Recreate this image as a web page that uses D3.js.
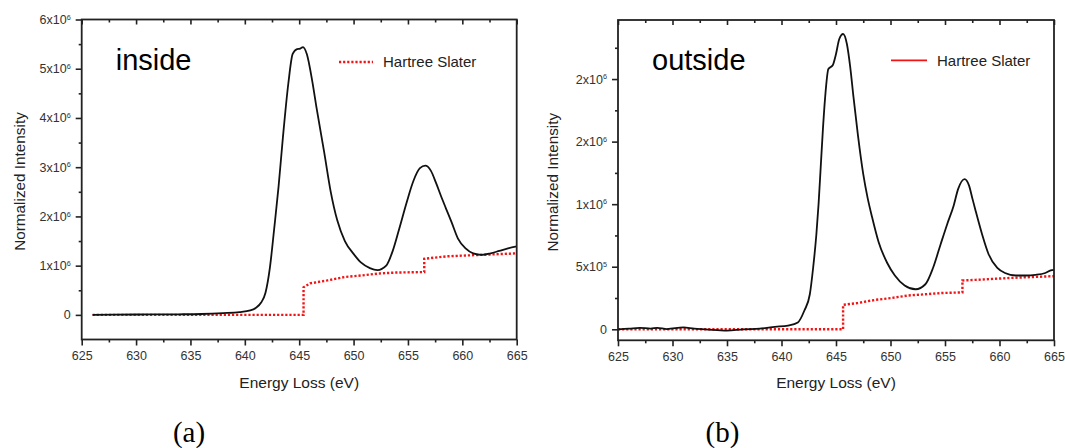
<!DOCTYPE html>
<html><head><meta charset="utf-8">
<script src="https://cdn.jsdelivr.net/npm/d3@7"></script>
<style>
body{margin:0;background:#fff;}
svg{display:block;}
</style>
</head><body>
<svg id="c" width="1065" height="448" font-family="Arial, 'Liberation Sans', Helvetica, sans-serif"></svg>
<script>
// ---------- data (energy in eV, intensity in counts) ----------
const xTickValues = [625, 630, 635, 640, 645, 650, 655, 660, 665];
const xMinorValues = [627.5, 632.5, 637.5, 642.5, 647.5, 652.5, 657.5, 662.5];

// panel (a) inside
const insideEnergy = [626, 628, 630, 632, 634, 636, 638, 639.5, 640.5, 641, 641.5, 641.9, 642.3, 642.7, 643.1, 643.5, 644.0, 644.4, 644.8, 645.1, 645.35, 645.7, 646.2, 646.6, 647.3, 647.9, 648.5, 649.2, 650.0, 650.7, 651.5, 652.2, 653.0, 653.6, 654.2, 654.9, 655.5, 656.1, 656.6, 657.1, 657.6, 658.1, 658.5, 659.0, 659.6, 660.3, 661.0, 661.8, 662.6, 663.4, 664.2, 665];
const insideIntensity = [0, 0.005e6, 0.008e6, 0.01e6, 0.012e6, 0.018e6, 0.035e6, 0.055e6, 0.09e6, 0.14e6, 0.25e6, 0.45e6, 0.95e6, 1.75e6, 2.6e6, 3.6e6, 4.7e6, 5.3e6, 5.4e6, 5.41e6, 5.44e6, 5.3e6, 4.75e6, 4.2e6, 3.3e6, 2.5e6, 1.92e6, 1.5e6, 1.24e6, 1.06e6, 0.95e6, 0.91e6, 1.0e6, 1.3e6, 1.75e6, 2.3e6, 2.72e6, 2.98e6, 3.03e6, 2.93e6, 2.67e6, 2.38e6, 2.16e6, 1.89e6, 1.55e6, 1.35e6, 1.25e6, 1.22e6, 1.25e6, 1.3e6, 1.35e6, 1.39e6];
const insideHSEnergy = [626, 645.4, 645.4, 646.0, 647.6, 649.2, 650.7, 652.3, 653.9, 656.5, 656.5, 658.6, 661.8, 665];
const insideHSIntensity = [0, 0, 0.56e6, 0.64e6, 0.70e6, 0.77e6, 0.80e6, 0.84e6, 0.86e6, 0.87e6, 1.14e6, 1.19e6, 1.22e6, 1.25e6];
const insideYTicks = [0, 1e6, 2e6, 3e6, 4e6, 5e6, 6e6];
const insideYMinor = [0.5e6, 1.5e6, 2.5e6, 3.5e6, 4.5e6, 5.5e6];
const insideYTickBase = ["0", "1x10", "2x10", "3x10", "4x10", "5x10", "6x10"];
const insideYTickExp = ["", "6", "6", "6", "6", "6", "6"];

// panel (b) outside
const outsideEnergy = [625, 626, 627, 628, 628.6, 629.5, 631, 632, 633, 635, 636.5, 638, 639.4, 640.6, 641.5, 642.1, 642.6, 642.9, 643.2, 643.4, 643.6, 643.8, 644.0, 644.3, 644.7, 645.0, 645.3, 645.65, 646.0, 646.3, 646.6, 647.0, 647.5, 647.9, 648.3, 648.9, 649.7, 650.4, 651.3, 652.3, 653.2, 653.9, 654.6, 655.2, 655.8, 656.2, 656.8, 657.2, 657.5, 657.8, 658.4, 659.0, 659.8, 660.5, 661.5, 662.4, 663.3, 664.2, 664.7, 665];
const outsideIntensity = [0, 0.005e6, 0.012e6, 0.005e6, 0.012e6, 0.002e6, 0.015e6, 0.005e6, 0, -0.01e6, 0, 0.005e6, 0.02e6, 0.03e6, 0.055e6, 0.15e6, 0.28e6, 0.49e6, 0.76e6, 1.0e6, 1.3e6, 1.6e6, 1.85e6, 2.08e6, 2.11e6, 2.2e6, 2.32e6, 2.36e6, 2.28e6, 2.1e6, 1.86e6, 1.56e6, 1.24e6, 1.05e6, 0.9e6, 0.7e6, 0.53e6, 0.43e6, 0.35e6, 0.32e6, 0.36e6, 0.49e6, 0.68e6, 0.84e6, 0.99e6, 1.12e6, 1.2e6, 1.15e6, 1.05e6, 0.95e6, 0.76e6, 0.6e6, 0.49e6, 0.45e6, 0.43e6, 0.43e6, 0.435e6, 0.45e6, 0.47e6, 0.475e6];
const outsideHSEnergy = [625, 645.65, 645.65, 647.0, 648.6, 650.1, 651.6, 653.2, 654.7, 656.6, 656.6, 657.8, 660.9, 665];
const outsideHSIntensity = [0, 0, 0.195e6, 0.21e6, 0.235e6, 0.25e6, 0.27e6, 0.28e6, 0.29e6, 0.295e6, 0.39e6, 0.395e6, 0.41e6, 0.425e6];
const outsideYTicks = [0, 5e5, 1e6, 1.5e6, 2e6];
const outsideYMinor = [2.5e5, 7.5e5, 1.25e6, 1.75e6, 2.25e6];
const outsideYTickBase = ["0", "5x10", "1x10", "2x10", "2x10"];
const outsideYTickExp = ["", "5", "6", "6", "6"];

const xTitle = "Energy Loss (eV)";
const yTitle = "Normalized Intensity";
const legendLabel = "Hartree Slater";

// ---------- drawing ----------
const svg = d3.select("#c");
const SANS = "Arial, 'Liberation Sans', Helvetica, sans-serif";
const SERIF = "'Liberation Serif', 'Times New Roman', Times, serif";
const RED = "#f21414";

function zip(a, b) { return a.map((v, i) => [v, b[i]]); }

function drawPanel(p) {
  const x = d3.scaleLinear().domain([625, 665]).range([p.left, p.right]);
  const y = d3.scaleLinear().domain(p.yDomain).range([p.bottom, p.top]);
  const g = svg.append("g");

  // data lines
  const blackLine = d3.line().x(d => x(d[0])).y(d => y(d[1])).curve(d3.curveMonotoneX);
  const redLine = d3.line().x(d => x(d[0])).y(d => y(d[1]));
  g.append("path").datum(zip(p.hsE, p.hsI)).attr("d", redLine)
    .attr("fill", "none").attr("stroke", RED).attr("stroke-width", 2.4)
    .attr("stroke-dasharray", "2.2,1.9");
  g.append("path").datum(zip(p.E, p.I)).attr("d", blackLine)
    .attr("fill", "none").attr("stroke", "#111").attr("stroke-width", 1.8)
    .attr("stroke-linejoin", "round");

  // bottom axis
  g.append("g").attr("transform", `translate(0,${p.bottom})`)
    .call(d3.axisBottom(x).tickValues(xTickValues).tickSize(6).tickPadding(6).tickSizeOuter(0).tickFormat(d3.format("d")));
  g.append("g").attr("transform", `translate(0,${p.bottom})`)
    .call(d3.axisBottom(x).tickValues(xMinorValues).tickSize(3).tickSizeOuter(0).tickFormat(""));
  // top axis (inward ticks)
  g.append("g").attr("transform", `translate(0,${p.top})`)
    .call(d3.axisTop(x).tickValues(xTickValues).tickSize(-5).tickSizeOuter(0).tickFormat(""));
  g.append("g").attr("transform", `translate(0,${p.top})`)
    .call(d3.axisTop(x).tickValues(xMinorValues).tickSize(-3).tickSizeOuter(0).tickFormat(""));
  // left axis
  const ly = g.append("g").attr("transform", `translate(${p.left},0)`)
    .call(d3.axisLeft(y).tickValues(p.yTicks).tickSize(6).tickPadding(5).tickSizeOuter(0));
  g.append("g").attr("transform", `translate(${p.left},0)`)
    .call(d3.axisLeft(y).tickValues(p.yMinor).tickSize(3).tickSizeOuter(0).tickFormat(""));

  ly.selectAll(".tick text").each(function(d, i) {
    const t = d3.select(this);
    t.text(p.yBase[i]);
    if (p.yExp[i]) t.append("tspan").attr("dy", "-0.6em").attr("font-size", "0.58em").text(p.yExp[i]);
  });

  g.selectAll(".domain").remove();
  g.selectAll(".tick line").attr("stroke", "#222").attr("stroke-width", 1.6);
  g.selectAll(".tick text").attr("fill", "#333").attr("font-size", "12.5px")
    .attr("font-family", SANS);

  // frame
  g.append("rect").attr("x", p.left).attr("y", p.top)
    .attr("width", p.right - p.left).attr("height", p.bottom - p.top)
    .attr("fill", "none").attr("stroke", "#222").attr("stroke-width", 1.8);

  // axis titles
  g.append("text").attr("x", (p.left + p.right) / 2).attr("y", p.bottom + 48)
    .attr("text-anchor", "middle").attr("font-size", "15.5px").attr("fill", "#222")
    .attr("font-family", SANS).text(xTitle);
  g.append("text").attr("transform", `translate(${p.yTitleX},${(p.top + p.bottom) / 2 + 2}) rotate(-90)`)
    .attr("text-anchor", "middle").attr("font-size", "15.3px").attr("fill", "#222")
    .attr("font-family", SANS).text(yTitle);

  // panel name
  g.append("text").attr("x", p.left + 34).attr("y", 70).attr("font-size", "29px")
    .attr("font-family", SANS).attr("fill", "#000").text(p.name);

  // legend
  const leg = g.append("line").attr("x1", p.legX1).attr("x2", p.legX2)
    .attr("y1", p.legY).attr("y2", p.legY).attr("stroke", RED).attr("stroke-width", p.legDotted ? 2.4 : 1.8);
  if (p.legDotted) leg.attr("stroke-dasharray", "2.2,1.9");
  g.append("text").attr("x", p.legX2 + 10).attr("y", p.legY + 5.3)
    .attr("font-size", "15px").attr("font-family", SANS).attr("fill", "#222").text(legendLabel);

  // caption
  svg.append("text").attr("x", p.capX).attr("y", 442).attr("text-anchor", "middle")
    .attr("font-family", SERIF).attr("font-size", "29px")
    .attr("fill", "#000").text(p.caption);
}

drawPanel({
  left: 81.7, right: 516.7, top: 19.5, bottom: 339.5, yDomain: [-0.5e6, 6e6],
  E: insideEnergy, I: insideIntensity, hsE: insideHSEnergy, hsI: insideHSIntensity,
  yTicks: insideYTicks, yMinor: insideYMinor, yBase: insideYTickBase, yExp: insideYTickExp,
  yTitleX: 25, name: "inside", legX1: 339, legX2: 373, legY: 62, legDotted: true,
  caption: "(a)", capX: 189
});
drawPanel({
  left: 618, right: 1054, top: 20, bottom: 340.3, yDomain: [-0.088e6, 2.472e6],
  E: outsideEnergy, I: outsideIntensity, hsE: outsideHSEnergy, hsI: outsideHSIntensity,
  yTicks: outsideYTicks, yMinor: outsideYMinor, yBase: outsideYTickBase, yExp: outsideYTickExp,
  yTitleX: 558, name: "outside", legX1: 891, legX2: 927, legY: 60.3, legDotted: false,
  caption: "(b)", capX: 722.5
});
</script>
</body></html>
